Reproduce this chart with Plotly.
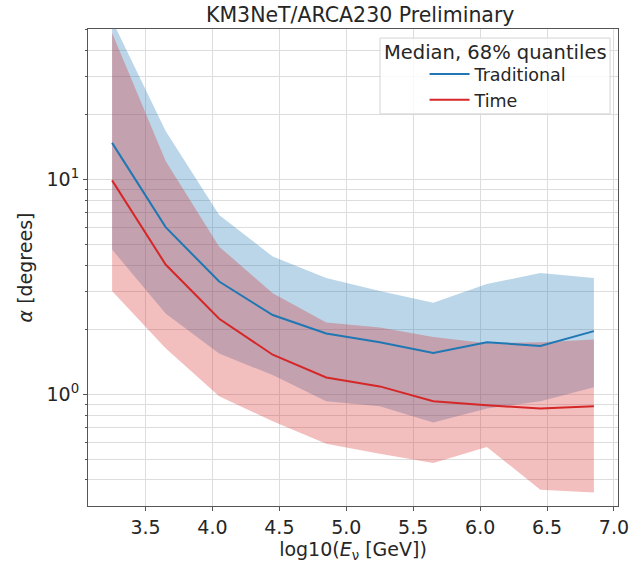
import plotly.graph_objects as go

# log10(E_nu [GeV]) bin centres
log_energy = [3.25, 3.65, 4.05, 4.45, 4.85, 5.25, 5.65, 6.05, 6.45, 6.85]

# Traditional reconstruction: median and 68% quantiles (degrees)
trad_median = [14.8, 6.0, 3.35, 2.34, 1.92, 1.75, 1.56, 1.75, 1.68, 1.97]
trad_lower = [4.72, 2.38, 1.55, 1.23, 0.93, 0.88, 0.74, 0.86, 0.93, 1.08]
trad_upper = [55.0, 16.8, 6.84, 4.38, 3.48, 3.03, 2.67, 3.26, 3.67, 3.48]

# Time reconstruction: median and 68% quantiles (degrees)
time_median = [9.9, 4.02, 2.25, 1.53, 1.20, 1.09, 0.93, 0.89, 0.86, 0.88]
time_lower = [3.03, 1.64, 0.98, 0.75, 0.59, 0.53, 0.48, 0.57, 0.36, 0.35]
time_upper = [48.0, 12.2, 4.87, 2.96, 2.16, 2.05, 1.85, 1.73, 1.75, 1.80]

x_ticks = [3.5, 4.0, 4.5, 5.0, 5.5, 6.0, 6.5, 7.0]
y_major = [1, 10]
y_major_text = ["10<sup>0</sup>", "10<sup>1</sup>"]
y_minor = [m * d for d in (0.1, 1, 10) for m in range(2, 10)]

BLUE = "#1f77b4"
RED = "#d62728"
BLUE_FILL = "rgba(31,119,180,0.3)"
RED_FILL = "rgba(214,39,40,0.3)"

fig = go.Figure()
fig.add_trace(go.Scatter(x=log_energy, y=trad_lower, mode="lines", line=dict(width=0),
                         showlegend=False, hoverinfo="skip"))
fig.add_trace(go.Scatter(x=log_energy, y=trad_upper, mode="lines", line=dict(width=0),
                         fill="tonexty", fillcolor=BLUE_FILL, showlegend=False, hoverinfo="skip"))
fig.add_trace(go.Scatter(x=log_energy, y=time_lower, mode="lines", line=dict(width=0),
                         showlegend=False, hoverinfo="skip"))
fig.add_trace(go.Scatter(x=log_energy, y=time_upper, mode="lines", line=dict(width=0),
                         fill="tonexty", fillcolor=RED_FILL, showlegend=False, hoverinfo="skip"))
fig.add_trace(go.Scatter(x=log_energy, y=trad_median, mode="lines", name="Traditional",
                         line=dict(color=BLUE, width=2)))
fig.add_trace(go.Scatter(x=log_energy, y=time_median, mode="lines", name="Time",
                         line=dict(color=RED, width=2)))

FONT = "DejaVu Sans"
TXT = "#262626"
GRID = "#dddddd"
FS = 19

# legend frame (paper coordinates) and its title
fig.add_shape(type="rect", xref="paper", yref="paper", x0=0.551, x1=0.985, y0=0.822, y1=0.981,
              line=dict(color="#d4d4d4", width=1), fillcolor="rgba(255,255,255,0.8)", layer="above")
fig.add_annotation(text="Median, 68% quantiles", xref="paper", yref="paper", x=0.768, y=0.950,
                   xanchor="center", yanchor="middle", showarrow=False,
                   font=dict(size=19.5, color=TXT, family=FONT))

fig.update_layout(
    width=641, height=565,
    margin=dict(l=88, r=14, t=29, b=52),
    paper_bgcolor="white", plot_bgcolor="white",
    font=dict(family=FONT, size=FS, color=TXT),
    title=dict(text="KM3NeT/ARCA230 Preliminary", x=0.562, xanchor="center",
               y=0.973, yanchor="middle", font=dict(size=20.5, color=TXT)),
    legend=dict(
        x=0.635, xanchor="left", y=0.943, yanchor="top",
        bgcolor="rgba(0,0,0,0)", borderwidth=0,
        font=dict(size=17.5), itemwidth=40, tracegroupgap=0, traceorder="normal",
    ),
    showlegend=True,
)

fig.update_xaxes(
    range=[3.07, 7.03], tickmode="array", tickvals=x_ticks,
    ticktext=[f"{v:.1f}" for v in x_ticks],
    showgrid=True, gridcolor=GRID, gridwidth=1,
    showline=True, linecolor="#555555", linewidth=1, mirror=True,
    ticks="outside", ticklen=4, tickcolor="#555555", zeroline=False,
    title=dict(text="log10(<i>E</i><sub>ν</sub> [GeV])", standoff=2, font=dict(size=FS)),
    tickfont=dict(size=FS),
)
fig.update_yaxes(
    type="log", range=[-0.519, 1.70],
    tickmode="array", tickvals=y_major, ticktext=y_major_text,
    showgrid=True, gridcolor=GRID, gridwidth=1,
    showline=True, linecolor="#555555", linewidth=1, mirror=True,
    ticks="outside", ticklen=4, tickcolor="#555555", zeroline=False,
    minor=dict(tickmode="array", tickvals=y_minor, ticks="outside", ticklen=2,
               tickcolor="#555555", showgrid=True, gridcolor=GRID, gridwidth=1),
    title=dict(text="<i>α</i> [degrees]", standoff=8, font=dict(size=FS)),
    tickfont=dict(size=FS),
)

fig.write_html("out.html")
